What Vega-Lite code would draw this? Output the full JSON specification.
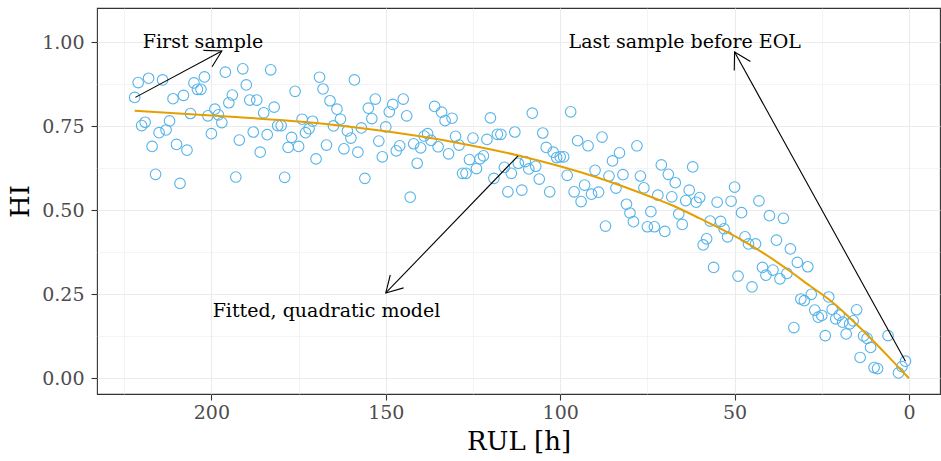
{
  "$schema": "https://vega.github.io/schema/vega-lite/v6.json",
  "width": 843,
  "height": 386,
  "autosize": {"type": "none"},
  "padding": {"left": 97, "top": 8, "right": 1, "bottom": 67},
  "background": "white",
  "config": {
    "font": "DejaVu Serif",
    "view": {"stroke": "#333333", "strokeWidth": 1.1},
    "axis": {
      "domain": false,
      "gridColor": "#EBEBEB",
      "tickColor": "#333333",
      "tickSize": 6,
      "tickWidth": 1.1,
      "labelColor": "#4D4D4D",
      "labelFont": "DejaVu Serif",
      "labelFontSize": 19,
      "titleFont": "DejaVu Serif",
      "titleFontSize": 26,
      "titleFontWeight": "normal",
      "titleColor": "#000000",
      "labelOverlap": false,
      "labelFlush": false
    }
  },
  "datasets": {
    "pts": [
      {"rul":222,"hi":0.836},{"rul":221,"hi":0.880},{"rul":220,"hi":0.752},{"rul":219,"hi":0.762},{"rul":218,"hi":0.893},{"rul":217,"hi":0.690},{"rul":216,"hi":0.607},{"rul":215,"hi":0.731},{"rul":214,"hi":0.888},{"rul":213,"hi":0.739},
      {"rul":212,"hi":0.766},{"rul":211,"hi":0.832},{"rul":210,"hi":0.696},{"rul":209,"hi":0.580},{"rul":208,"hi":0.842},{"rul":207,"hi":0.679},{"rul":206,"hi":0.788},{"rul":205,"hi":0.879},{"rul":204,"hi":0.860},{"rul":203,"hi":0.860},
      {"rul":202,"hi":0.897},{"rul":201,"hi":0.781},{"rul":200,"hi":0.728},{"rul":199,"hi":0.801},{"rul":198,"hi":0.784},{"rul":197,"hi":0.761},{"rul":196,"hi":0.911},{"rul":195,"hi":0.820},{"rul":194,"hi":0.843},{"rul":193,"hi":0.599},
      {"rul":192,"hi":0.709},{"rul":191,"hi":0.921},{"rul":190,"hi":0.873},{"rul":189,"hi":0.828},{"rul":188,"hi":0.733},{"rul":187,"hi":0.828},{"rul":186,"hi":0.673},{"rul":185,"hi":0.790},{"rul":184,"hi":0.725},{"rul":183,"hi":0.918},
      {"rul":182,"hi":0.807},{"rul":181,"hi":0.752},{"rul":180,"hi":0.752},{"rul":179,"hi":0.598},{"rul":178,"hi":0.687},{"rul":177,"hi":0.717},{"rul":176,"hi":0.854},{"rul":175,"hi":0.690},{"rul":174,"hi":0.771},{"rul":173,"hi":0.731},
      {"rul":172,"hi":0.743},{"rul":171,"hi":0.765},{"rul":170,"hi":0.653},{"rul":169,"hi":0.896},{"rul":168,"hi":0.861},{"rul":167,"hi":0.694},{"rul":166,"hi":0.826},{"rul":165,"hi":0.751},{"rul":164,"hi":0.801},{"rul":163,"hi":0.771},
      {"rul":162,"hi":0.683},{"rul":161,"hi":0.736},{"rul":160,"hi":0.715},{"rul":159,"hi":0.888},{"rul":158,"hi":0.673},{"rul":157,"hi":0.745},{"rul":156,"hi":0.595},{"rul":155,"hi":0.804},{"rul":154,"hi":0.773},{"rul":153,"hi":0.831},
      {"rul":152,"hi":0.706},{"rul":151,"hi":0.659},{"rul":150,"hi":0.748},{"rul":149,"hi":0.793},{"rul":148,"hi":0.815},{"rul":147,"hi":0.677},{"rul":146,"hi":0.692},{"rul":145,"hi":0.831},{"rul":144,"hi":0.781},{"rul":143,"hi":0.539},
      {"rul":142,"hi":0.698},{"rul":141,"hi":0.640},{"rul":140,"hi":0.686},{"rul":139,"hi":0.721},{"rul":138,"hi":0.728},{"rul":137,"hi":0.708},{"rul":136,"hi":0.809},{"rul":135,"hi":0.689},{"rul":134,"hi":0.792},{"rul":133,"hi":0.767},
      {"rul":132,"hi":0.668},{"rul":131,"hi":0.774},{"rul":130,"hi":0.720},{"rul":129,"hi":0.694},{"rul":128,"hi":0.610},{"rul":127,"hi":0.610},{"rul":126,"hi":0.651},{"rul":125,"hi":0.715},{"rul":124,"hi":0.624},{"rul":123,"hi":0.653},
      {"rul":122,"hi":0.662},{"rul":121,"hi":0.711},{"rul":120,"hi":0.775},{"rul":119,"hi":0.595},{"rul":118,"hi":0.726},{"rul":117,"hi":0.726},{"rul":116,"hi":0.628},{"rul":115,"hi":0.555},{"rul":114,"hi":0.610},{"rul":113,"hi":0.733},
      {"rul":112,"hi":0.640},{"rul":111,"hi":0.560},{"rul":110,"hi":0.645},{"rul":109,"hi":0.623},{"rul":108,"hi":0.789},{"rul":107,"hi":0.631},{"rul":106,"hi":0.593},{"rul":105,"hi":0.730},{"rul":104,"hi":0.687},{"rul":103,"hi":0.555},
      {"rul":102,"hi":0.673},{"rul":101,"hi":0.657},{"rul":100,"hi":0.659},{"rul":99,"hi":0.659},{"rul":98,"hi":0.604},{"rul":97,"hi":0.793},{"rul":96,"hi":0.555},{"rul":95,"hi":0.707},{"rul":94,"hi":0.526},{"rul":93,"hi":0.575},
      {"rul":92,"hi":0.692},{"rul":91,"hi":0.548},{"rul":90,"hi":0.619},{"rul":89,"hi":0.554},{"rul":88,"hi":0.718},{"rul":87,"hi":0.453},{"rul":86,"hi":0.602},{"rul":85,"hi":0.647},{"rul":84,"hi":0.566},{"rul":83,"hi":0.671},
      {"rul":82,"hi":0.606},{"rul":81,"hi":0.518},{"rul":80,"hi":0.492},{"rul":79,"hi":0.466},{"rul":78,"hi":0.692},{"rul":77,"hi":0.602},{"rul":76,"hi":0.567},{"rul":75,"hi":0.451},{"rul":74,"hi":0.496},{"rul":73,"hi":0.451},
      {"rul":72,"hi":0.545},{"rul":71,"hi":0.635},{"rul":70,"hi":0.437},{"rul":69,"hi":0.607},{"rul":68,"hi":0.540},{"rul":67,"hi":0.582},{"rul":66,"hi":0.489},{"rul":65,"hi":0.458},{"rul":64,"hi":0.529},{"rul":63,"hi":0.560},
      {"rul":62,"hi":0.629},{"rul":61,"hi":0.524},{"rul":60,"hi":0.538},{"rul":59,"hi":0.397},{"rul":58,"hi":0.415},{"rul":57,"hi":0.468},{"rul":56,"hi":0.330},{"rul":55,"hi":0.524},{"rul":54,"hi":0.467},{"rul":53,"hi":0.445},
      {"rul":52,"hi":0.421},{"rul":51,"hi":0.527},{"rul":50,"hi":0.569},{"rul":49,"hi":0.304},{"rul":48,"hi":0.493},{"rul":47,"hi":0.421},{"rul":46,"hi":0.400},{"rul":45,"hi":0.272},{"rul":44,"hi":0.400},{"rul":43,"hi":0.528},
      {"rul":42,"hi":0.330},{"rul":41,"hi":0.307},{"rul":40,"hi":0.484},{"rul":39,"hi":0.322},{"rul":38,"hi":0.411},{"rul":37,"hi":0.296},{"rul":36,"hi":0.476},{"rul":35,"hi":0.312},{"rul":34,"hi":0.385},{"rul":33,"hi":0.151},
      {"rul":32,"hi":0.345},{"rul":31,"hi":0.236},{"rul":30,"hi":0.231},{"rul":29,"hi":0.332},{"rul":28,"hi":0.250},{"rul":27,"hi":0.203},{"rul":26,"hi":0.182},{"rul":25,"hi":0.187},{"rul":24,"hi":0.127},{"rul":23,"hi":0.242},
      {"rul":22,"hi":0.205},{"rul":21,"hi":0.177},{"rul":20,"hi":0.188},{"rul":19,"hi":0.167},{"rul":18,"hi":0.132},{"rul":17,"hi":0.162},{"rul":16,"hi":0.171},{"rul":15,"hi":0.204},{"rul":14,"hi":0.062},{"rul":13,"hi":0.126},
      {"rul":12,"hi":0.119},{"rul":11,"hi":0.092},{"rul":10,"hi":0.032},{"rul":9,"hi":0.029},{"rul":6,"hi":0.127},{"rul":3,"hi":0.016},{"rul":2,"hi":0.035},{"rul":1,"hi":0.051}
    ],
    "fit": [
      {"rul":0,"hi":0.0},{"rul":5,"hi":0.055},{"rul":13,"hi":0.14},{"rul":18,"hi":0.19},{"rul":23,"hi":0.235},{"rul":28.5,"hi":0.276},{"rul":34,"hi":0.318},{"rul":37,"hi":0.34},{"rul":48,"hi":0.412},{"rul":60,"hi":0.476},{"rul":68.6,"hi":0.518},{"rul":72,"hi":0.532},{"rul":90,"hi":0.6},{"rul":110,"hi":0.658},{"rul":130,"hi":0.702},{"rul":150,"hi":0.735},{"rul":170,"hi":0.76},{"rul":192,"hi":0.777},{"rul":222,"hi":0.796}
    ],
    "arrows": [
      {"id":"first","rul":197.0,"hi":0.974,"rul2":221.8,"hi2":0.836},
      {"id":"fit","rul":150.0,"hi":0.254,"rul2":112.1,"hi2":0.662},
      {"id":"last","rul":50.0,"hi":0.971,"rul2":1.0,"hi2":0.051}
    ],
    "labels": [
      {"txt":"First sample","rul":202.4,"hi":1.0},
      {"txt":"Last sample before EOL","rul":64.3,"hi":1.0},
      {"txt":"Fitted, quadratic model","rul":167.0,"hi":0.2}
    ]
  },
  "encoding": {
    "x": {
      "field": "rul", "type": "quantitative",
      "scale": {"domain": [-8.9, 232.8], "reverse": true, "nice": false, "zero": false},
      "axis": {
        "title": "RUL [h]",
        "values": [0,25,50,75,100,125,150,175,200,225],
        "labelExpr": "datum.value % 50 == 0 ? datum.label : ''",
        "tickOpacity": {"condition": {"test": "datum.value % 50 != 0", "value": 0}, "value": 1},
        "gridWidth": {"condition": {"test": "datum.value % 50 != 0", "value": 0.55}, "value": 1.1},
        "labelPadding": 3,
        "titlePadding": 6
      }
    },
    "y": {
      "field": "hi", "type": "quantitative",
      "scale": {"domain": [-0.0467, 1.102], "nice": false, "zero": false},
      "axis": {
        "title": "HI",
        "values": [0,0.125,0.25,0.375,0.5,0.625,0.75,0.875,1.0],
        "labelExpr": "datum.value % 0.25 == 0 ? format(datum.value, '.2f') : ''",
        "tickOpacity": {"condition": {"test": "datum.value % 0.25 != 0", "value": 0}, "value": 1},
        "gridWidth": {"condition": {"test": "datum.value % 0.25 != 0", "value": 0.55}, "value": 1.1},
        "labelPadding": 7,
        "titlePadding": 8
      }
    }
  },
  "layer": [
    {
      "data": {"name": "pts"},
      "mark": {"type": "point", "shape": "circle", "filled": false, "color": "#56B4E9", "size": 112, "strokeWidth": 1.1, "opacity": 1}
    },
    {
      "data": {"name": "fit"},
      "mark": {"type": "line", "color": "#E69F00", "strokeWidth": 2, "interpolate": "monotone"}
    },
    {
      "data": {"name": "arrows"},
      "mark": {"type": "rule", "color": "black", "strokeWidth": 1.1},
      "encoding": {
        "x2": {"field": "rul2"},
        "y2": {"field": "hi2"}
      }
    },
    {
      "data": {"name": "arrows"},
      "transform": [{"filter": "datum.id == 'first'"}],
      "mark": {"type": "point", "shape": "M -0.5 0.866 L 0 0 L 0.5 0.866", "filled": false, "stroke": "black", "strokeWidth": 1.1, "size": 1369, "angle": 62, "opacity": 1}
    },
    {
      "data": {"name": "arrows"},
      "transform": [{"filter": "datum.id == 'fit'"}],
      "mark": {"type": "point", "shape": "M -0.5 0.866 L 0 0 L 0.5 0.866", "filled": false, "stroke": "black", "strokeWidth": 1.1, "size": 1369, "angle": 224, "opacity": 1}
    },
    {
      "data": {"name": "arrows"},
      "transform": [{"filter": "datum.id == 'last'"}],
      "mark": {"type": "point", "shape": "M -0.5 0.866 L 0 0 L 0.5 0.866", "filled": false, "stroke": "black", "strokeWidth": 1.1, "size": 1369, "angle": 331, "opacity": 1}
    },
    {
      "data": {"name": "labels"},
      "mark": {"type": "text", "font": "DejaVu Serif", "fontSize": 19, "color": "black", "align": "center", "baseline": "middle"},
      "encoding": {"text": {"field": "txt"}}
    }
  ]
}
